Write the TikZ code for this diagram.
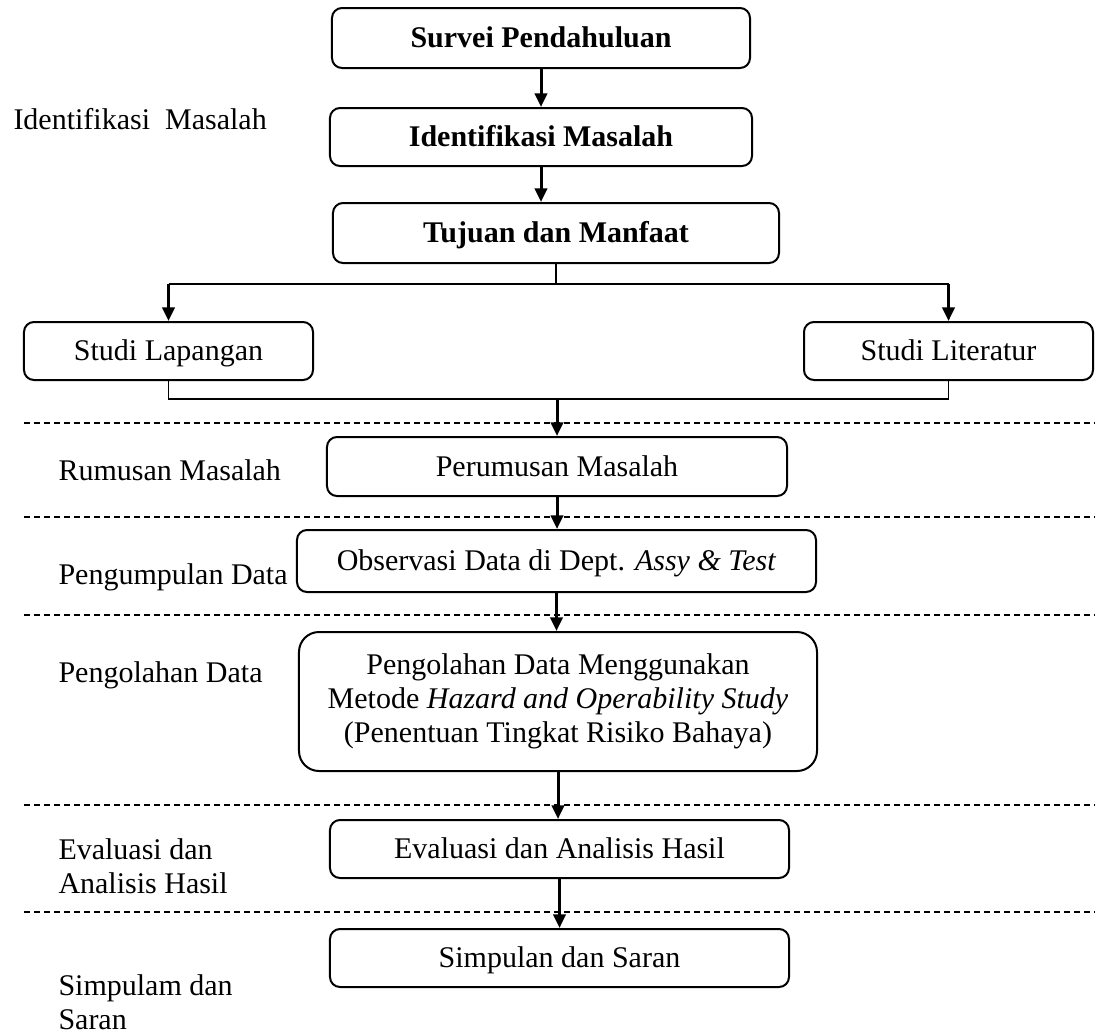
\documentclass[tikz,border=0pt]{standalone}
\usepackage{fontspec}
\setmainfont{Liberation Serif}
\usepackage{tikz}
\usetikzlibrary{positioning, arrows.meta}

\tikzset{
	stepbox/.style={draw, line width=0.8pt, rounded corners=4pt, align=center, inner sep=2pt},
	onebox/.style={stepbox, text height=1.9ex, text depth=0.2ex},
	sidelabel/.style={anchor=west, align=left, inner sep=0pt},
	flow/.style={line width=1.2pt, -{Triangle[length=5.5pt,width=5pt]}},
	branch/.style={line width=0.6pt},
	lane/.style={line width=0.6pt, dash pattern=on 2.4pt off 1.6pt}
}

\begin{document}
\begin{tikzpicture}[x=0.4pt, y=-0.4pt, font=\fontsize{12}{13.6}\selectfont]
				\useasboundingbox (0,0) rectangle (1095,1035);

				% main steps
				\node[onebox, minimum width=167.2pt, minimum height=24pt] (survei) at (541,38) {\textbf{Survei Pendahuluan}};
				\node[onebox, minimum width=168.8pt, minimum height=23.2pt] (identifikasi) at (541,137) {\textbf{Identifikasi Masalah}};
				\node[onebox, minimum width=178.4pt, minimum height=24pt] (tujuan) at (556,233) {\textbf{Tujuan dan Manfaat}};
				\node[onebox, minimum width=115.6pt, minimum height=23.2pt] (lapangan) at (168.5,351) {Studi Lapangan};
				\node[onebox, minimum width=115.6pt, minimum height=23.2pt] (literatur) at (948.5,351) {Studi Literatur};
				\node[onebox, minimum width=184pt, minimum height=23.6pt] (perumusan) at (557,466.5) {Perumusan Masalah};
				\node[onebox, minimum width=207.6pt, minimum height=24.8pt] (observasi) at (556.5,561) {Observasi Data di Dept. \textit{Assy \& Test}};
				\node[stepbox, rounded corners=8pt, minimum width=207.2pt, minimum height=55.6pt] (pengolahan) at (558,701.5) {Pengolahan Data Menggunakan\\Metode \textit{Hazard and Operability Study}\\(Penentuan Tingkat Risiko Bahaya)};
				\node[onebox, minimum width=183.6pt, minimum height=23.2pt] (evaluasi) at (559.5,849) {Evaluasi dan Analisis Hasil};
				\node[onebox, minimum width=183.6pt, minimum height=23.2pt] (simpulan) at (559.5,958) {Simpulan dan Saran};

				% stage labels
				\node[sidelabel] (lblIdentifikasi) at (13,119) {Identifikasi\ \ Masalah};
				\node[sidelabel] (lblRumusan) at (58,470) {Rumusan Masalah};
				\node[sidelabel] (lblPengumpulan) at (58,577) {Pengumpulan Data};
				\node[sidelabel] (lblPengolahan) at (58,675) {Pengolahan Data};
				\node[sidelabel] (lblEvaluasi) at (58,866) {Evaluasi dan\\Analisis Hasil};
				\node[sidelabel] (lblSimpulan) at (58,1002) {Simpulam dan\\Saran};

				% stage separators
				\foreach \y in {423,517,615,805,912}
					\draw[lane] (24,\y) -- (1095,\y);

				% split and join
				\coordinate (split) at (556,284);
				\coordinate (join) at (557,399);
				\draw[branch] (tujuan.south) -- (split);
				\draw[branch] (lapangan.north |- split) -- (literatur.north |- split);
				\draw[branch] (lapangan.south) -- (lapangan.south |- join) -- (literatur.south |- join) -- (literatur.south);

				\path[flow]
				(survei) edge (identifikasi)
				(identifikasi) edge (identifikasi.south |- tujuan.north)
				(lapangan.north |- split) edge (lapangan)
				(literatur.north |- split) edge (literatur)
				(join) edge (join |- perumusan.north)
				(perumusan) edge (perumusan.south |- observasi.north)
				(observasi.south) edge (observasi.south |- pengolahan.north)
				(pengolahan.south) edge (pengolahan.south |- evaluasi.north)
				(evaluasi) edge (simpulan);
			\end{tikzpicture}
\end{document}
